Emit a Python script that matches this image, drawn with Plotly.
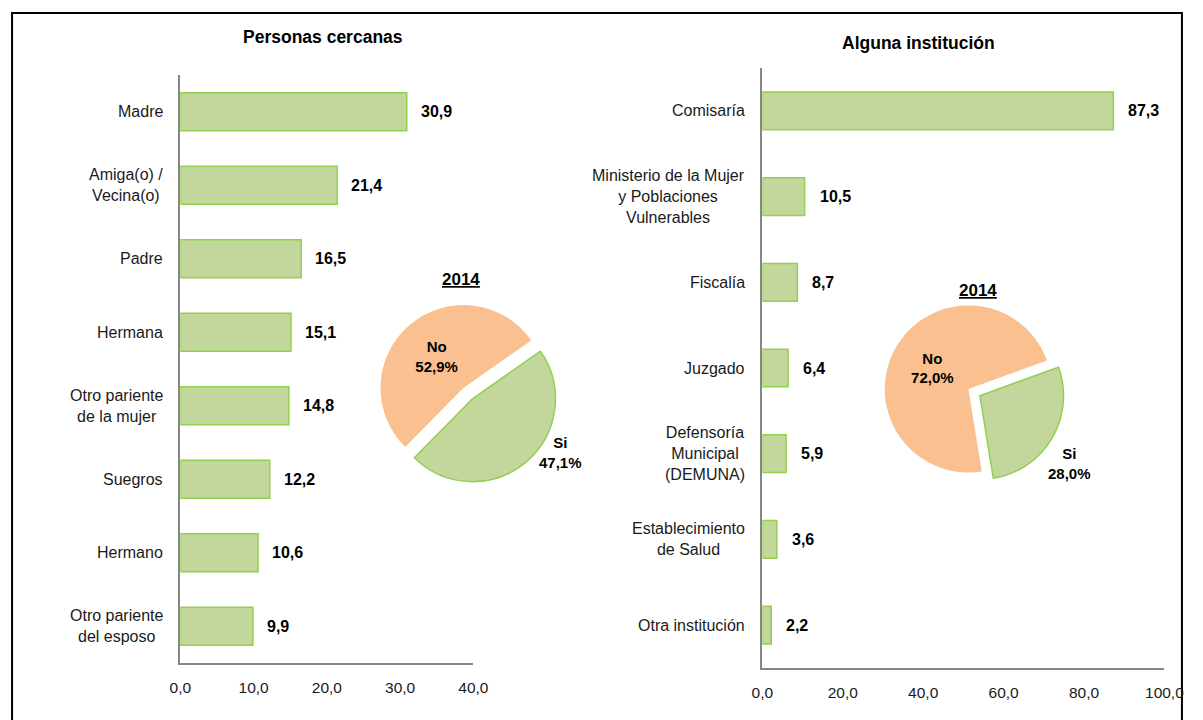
import plotly.graph_objects as go

# ---- data -------------------------------------------------------------
personas = ["Madre", "Amiga(o) /<br>Vecina(o)", "Padre", "Hermana",
            "Otro pariente<br>de la mujer", "Suegros", "Hermano",
            "Otro pariente<br>del esposo"]
personas_val = [30.9, 21.4, 16.5, 15.1, 14.8, 12.2, 10.6, 9.9]

instituciones = ["Comisaría", "Ministerio de la Mujer<br>y Poblaciones<br>Vulnerables",
                 "Fiscalía", "Juzgado", "Defensoría<br>Municipal<br>(DEMUNA)",
                 "Establecimiento<br>de Salud", "Otra institución"]
instituciones_val = [87.3, 10.5, 8.7, 6.4, 5.9, 3.6, 2.2]

pie_labels = ["Si", "No"]
pie_personas = [47.1, 52.9]
pie_instituciones = [28.0, 72.0]
pie_year = "2014"

left_title = "Personas cercanas"
right_title = "Alguna institución"

# ---- styling ----------------------------------------------------------
FONT = "Liberation Sans, Arial, sans-serif"
BAR_FILL = "#C3D69B"
BAR_EDGE = "#92D050"
ORANGE = "#FAC090"
AXIS = "#868686"

# drawing area of the page, in pixels
PAGE_W, PAGE_H, PAGE_X0 = 1172, 720, 9.6


def px_x(p):
    return (p - PAGE_X0) / PAGE_W


def px_y(p):
    return 1 - p / PAGE_H


def fmt(v):
    return f"{v:.1f}".replace(".", ",")


fig = go.Figure()

fig.add_trace(go.Bar(
    x=personas_val, y=personas, orientation="h",
    marker=dict(color=BAR_FILL, line=dict(color=BAR_EDGE, width=1.5)),
    width=0.52, xaxis="x", yaxis="y", hoverinfo="skip",
))
fig.add_trace(go.Bar(
    x=instituciones_val, y=instituciones, orientation="h",
    marker=dict(color=BAR_FILL, line=dict(color=BAR_EDGE, width=1.5)),
    width=0.44, xaxis="x2", yaxis="y2", hoverinfo="skip",
))


def pie(values, cx, cy, size, rotation, pull):
    return go.Pie(
        labels=pie_labels, values=values, sort=False, direction="clockwise",
        rotation=rotation, pull=[pull, 0],
        marker=dict(colors=[BAR_FILL, ORANGE],
                    line=dict(color=[BAR_EDGE, "rgba(0,0,0,0)"], width=[1.5, 0])),
        texttemplate=["", "<b>%{label}<br>%{percent:.1%}</b>"],
        textposition=["none", "inside"],
        insidetextorientation="horizontal",
        textfont=dict(family=FONT, size=15, color="#000"),
        showlegend=False, hoverinfo="skip",
        domain=dict(x=[px_x(cx - size / 2), px_x(cx + size / 2)],
                    y=[px_y(cy + size / 2), px_y(cy - size / 2)]),
    )


# (values, centre x, centre y, box size, rotation, pull, "Si" label offset)
pies = [
    (pie_personas, 462, 388, 194, 55, 0.17, (97, 64)),
    (pie_instituciones, 967, 389, 194, 70, 0.16, (101, 74)),
]
for vals, cx, cy, size, rot, pull, _ in pies:
    fig.add_trace(pie(vals, cx, cy, size, rot, pull))

annotations = []
for vals, cx, cy, size, rot, pull, (dx, dy) in pies:
    annotations.append(dict(x=px_x(cx + dx), y=px_y(cy + dy), xref="paper", yref="paper",
                            xanchor="center", yanchor="middle", showarrow=False,
                            text=f"<b>{pie_labels[0]}<br>{fmt(vals[0])}%</b>",
                            font=dict(family=FONT, size=15, color="#000")))

for cat, v in zip(personas, personas_val):
    annotations.append(dict(x=v, y=cat, xref="x", yref="y", text=f"<b>{fmt(v)}</b>",
                            xanchor="left", xshift=12, showarrow=False,
                            font=dict(family=FONT, size=16, color="#000")))
    annotations.append(dict(x=0, y=cat, xref="x domain", yref="y", text=cat,
                            xanchor="right", xshift=-15, showarrow=False, align="center",
                            font=dict(family=FONT, size=16, color="#1a1a1a")))
for cat, v in zip(instituciones, instituciones_val):
    annotations.append(dict(x=v, y=cat, xref="x2", yref="y2", text=f"<b>{fmt(v)}</b>",
                            xanchor="left", xshift=13, showarrow=False,
                            font=dict(family=FONT, size=16, color="#000")))
    annotations.append(dict(x=0, y=cat, xref="x2 domain", yref="y2", text=cat,
                            xanchor="right", xshift=-15, showarrow=False, align="center",
                            font=dict(family=FONT, size=16, color="#1a1a1a")))

for txt, x, y in [(left_title, 322, 37), (right_title, 917, 43)]:
    annotations.append(dict(x=px_x(x), y=px_y(y), xref="paper", yref="paper",
                            xanchor="center", yanchor="middle",
                            text=f"<b>{txt}</b>", showarrow=False,
                            font=dict(family=FONT, size=17.5, color="#000")))
for x, y in [(460, 280), (977, 290)]:
    annotations.append(dict(x=px_x(x), y=px_y(y), xref="paper", yref="paper",
                            xanchor="center", yanchor="middle",
                            text=f"<b><u>{pie_year}</u></b>", showarrow=False,
                            font=dict(family=FONT, size=17, color="#000")))

axis_common = dict(showline=True, linecolor=AXIS, linewidth=2, showgrid=False,
                   zeroline=False, ticks="", tickformat=".1f", ticklabelstandoff=9,
                   tickfont=dict(family=FONT, size=15.5, color="#1a1a1a"))
cat_common = dict(showline=True, linecolor=AXIS, linewidth=2, showgrid=False,
                  zeroline=False, ticks="", showticklabels=False)

fig.update_layout(
    autosize=True,
    margin=dict(l=0, r=0, t=0, b=0),
    paper_bgcolor="white", plot_bgcolor="rgba(0,0,0,0)",
    separators=",.",
    showlegend=False,
    xaxis=dict(domain=[px_x(179), px_x(472)], range=[0, 40], dtick=10,
               anchor="y", **axis_common),
    yaxis=dict(domain=[px_y(663), px_y(75)], range=[7.5, -0.5], anchor="x",
               categoryorder="array", categoryarray=personas, **cat_common),
    xaxis2=dict(domain=[px_x(761), px_x(1163)], range=[0, 100], dtick=20,
                anchor="y2", **axis_common),
    yaxis2=dict(domain=[px_y(668), px_y(68)], range=[6.5, -0.5], anchor="x2",
                categoryorder="array", categoryarray=instituciones, **cat_common),
    annotations=annotations,
    shapes=[dict(type="rect", xref="paper", yref="paper",
                 x0=0.0009, x1=0.9991, y0=-0.2, y1=px_y(13),
                 line=dict(color="#000", width=2), layer="below")],
)

fig.write_html("out.html")
